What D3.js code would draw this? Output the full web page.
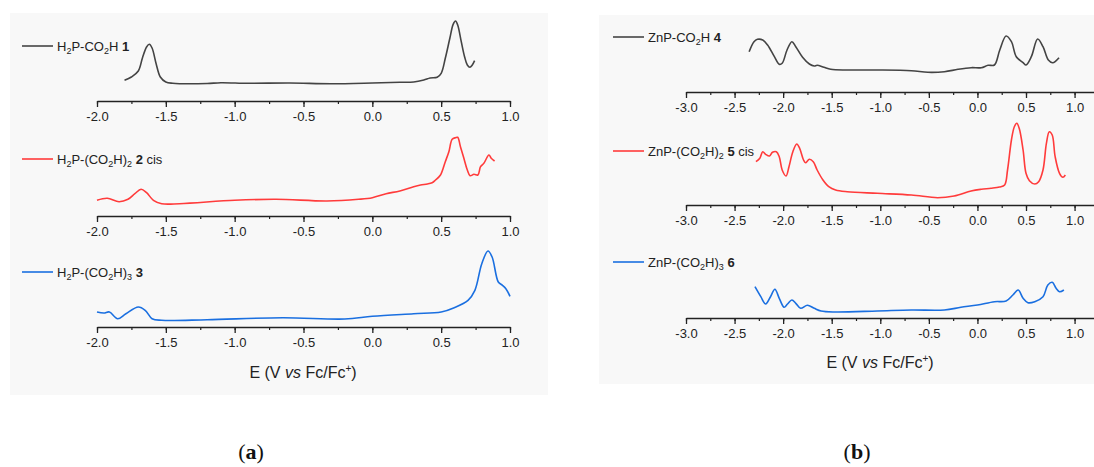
<!DOCTYPE html>
<html>
<head>
<meta charset="utf-8">
<script src="https://cdn.jsdelivr.net/npm/d3@7"></script>
<style>
  body { margin: 0; background: #fff; }
  svg { display: block; font-family: "Liberation Sans", Arial, sans-serif; }
</style>
</head>
<body>
<svg id="chart" width="1094" height="467"></svg>
<script>
// values: [E (V vs Fc/Fc+), relative signal]
const h2p1 = [[-1.80,20.7],[-1.75,24],[-1.70,30],[-1.67,43],[-1.64,54],[-1.62,56.7],[-1.60,53],[-1.57,37],
  [-1.54,24],[-1.50,19],[-1.45,17.7],[-1.40,17.3],[-1.2,17.5],[-1.1,18.3],[-0.9,17.7],[-0.6,18],[-0.3,17.3],
  [0.0,18],[0.20,18.7],[0.30,19],[0.374,21],[0.42,23],[0.471,23.7],[0.50,27.7],[0.53,42.7],[0.563,62.7],
  [0.587,76.7],[0.604,80],[0.62,76],[0.646,59.3],[0.67,44.3],[0.69,36],[0.709,33.7],[0.726,36],[0.743,40.3]];
const h2p2 = [[-2.0,15.7],[-1.925,17.7],[-1.84,14.3],[-1.775,16.7],[-1.725,22.3],[-1.68,26.7],[-1.64,23.3],
  [-1.59,15.7],[-1.53,12.3],[-1.40,12.3],[-1.0,15.7],[-0.70,16.7],[-0.33,15],[-0.10,16.7],[0.0,18.3],
  [0.10,22.3],[0.20,25],[0.30,29.3],[0.35,31],[0.40,32],[0.434,33.3],[0.459,36],[0.495,41],[0.53,54.3],
  [0.556,64.3],[0.58,76.7],[0.604,78.3],[0.62,78.7],[0.64,69.3],[0.665,57.7],[0.69,46],[0.71,40.3],
  [0.738,41.7],[0.767,41],[0.786,49.3],[0.81,52.7],[0.847,61],[0.864,57.7],[0.888,55]];
const h2p3 = [[-2.0,15],[-1.95,14],[-1.91,15],[-1.85,8.3],[-1.79,13.3],[-1.70,20],[-1.65,16.7],[-1.60,8.3],
  [-1.53,6.7],[-1.20,7.3],[-0.65,9.3],[-0.20,8],[0.0,10.7],[0.30,13.3],[0.50,15],[0.595,19.3],[0.695,26.7],
  [0.745,36.7],[0.795,63.3],[0.84,76],[0.87,70],[0.915,45],[0.945,41.7],[0.97,38.3],[1.0,30.7]];

const znp4 = [[-2.35,40.3],[-2.30,50.3],[-2.265,52.7],[-2.21,52],[-2.16,47],[-2.09,35.3],[-2.04,27.7],
  [-2.01,28.7],[-1.96,42],[-1.91,50.3],[-1.87,45.3],[-1.80,34.7],[-1.73,28],[-1.68,26],[-1.65,26.7],
  [-1.58,24.7],[-1.51,22.7],[-1.34,22],[-1.03,22],[-0.68,21.3],[-0.51,19.7],[-0.34,20.3],[-0.20,22.7],
  [-0.065,24.3],[0.04,24.3],[0.11,26.7],[0.175,27],[0.23,42],[0.295,56],[0.35,50.3],[0.40,35.3],
  [0.47,29.3],[0.50,27],[0.555,35.3],[0.62,53],[0.675,45.3],[0.73,32],[0.775,29.3],[0.84,34.3]];
const znp5 = [[-2.28,43.3],[-2.24,46.7],[-2.21,53.3],[-2.18,50.7],[-2.14,49],[-2.11,52.7],[-2.07,53.3],
  [-2.04,48.3],[-2.01,35],[-1.97,29],[-1.94,38.3],[-1.90,53.3],[-1.86,61],[-1.83,56.7],[-1.79,45],
  [-1.77,42.3],[-1.73,45.7],[-1.69,43.3],[-1.65,35],[-1.59,25],[-1.53,18.3],[-1.46,15],[-1.34,13.3],
  [-1.03,11.7],[-0.68,10],[-0.41,7.3],[-0.24,9],[-0.065,14],[0.04,15.7],[0.14,16.7],[0.227,18],
  [0.28,20],[0.31,35],[0.35,65],[0.38,78.3],[0.405,81.7],[0.43,76.7],[0.47,55],[0.50,31.7],[0.535,24.3],
  [0.59,21],[0.63,23.3],[0.675,35],[0.71,61.7],[0.74,73.3],[0.77,70],[0.80,48.3],[0.845,31.7],
  [0.88,27.7],[0.905,30]];
const znp6 = [[-2.29,31.3],[-2.23,21.3],[-2.18,14],[-2.13,21.3],[-2.085,28.7],[-2.04,19.7],[-1.99,10.7],
  [-1.955,14],[-1.91,18],[-1.87,14.7],[-1.82,9.7],[-1.75,12.7],[-1.68,9.7],[-1.61,7],[-1.47,6],[-1.03,7],
  [-0.68,8],[-0.34,8],[-0.17,10.7],[0.0,13],[0.175,16.3],[0.295,17],[0.365,23],[0.42,28],[0.47,19.7],
  [0.52,15.3],[0.59,16.3],[0.675,21.3],[0.725,33],[0.77,35.7],[0.81,29.7],[0.845,26.3],[0.89,28]];

const ticksA = [-2.0, -1.5, -1.0, -0.5, 0.0, 0.5, 1.0];
const ticksB = [-3.0, -2.5, -2.0, -1.5, -1.0, -0.5, 0.0, 0.5, 1.0];
const colors = ["#444444", "#ff3b3b", "#1a6fe0"];

// legend labels: [text, style] pieces
const labelsA = [
  [["H",""],["2","sub"],["P-CO",""],["2","sub"],["H ",""],["1","b"]],
  [["H",""],["2","sub"],["P-(CO",""],["2","sub"],["H)",""],["2","sub"],[" ",""],["2","b"],[" cis",""]],
  [["H",""],["2","sub"],["P-(CO",""],["2","sub"],["H)",""],["3","sub"],[" ",""],["3","b"]]
];
const labelsB = [
  [["ZnP-CO",""],["2","sub"],["H ",""],["4","b"]],
  [["ZnP-(CO",""],["2","sub"],["H)",""],["2","sub"],[" ",""],["5","b"],[" cis",""]],
  [["ZnP-(CO",""],["2","sub"],["H)",""],["3","sub"],[" ",""],["6","b"]]
];

const panels = [
  {series: [h2p1, h2p2, h2p3], labels: labelsA, ticks: ticksA, domain: [-2, 1], range: [97, 510],
   bg: [10, 13, 538, 382], axisY: [101, 216, 327], legY: [46, 159, 272], legX: 22,
   titleX: 303, titleY: 378, cap: "a", capX: 251},
  {series: [znp4, znp5, znp6], labels: labelsB, ticks: ticksB, domain: [-3, 1.2], range: [686, 1094],
   bg: [599, 15, 495, 369], axisY: [92, 205, 318], legY: [37, 151, 262], legX: 613,
   titleX: 880, titleY: 368, cap: "b", capX: 857}
];

const svg = d3.select("#chart");

panels.forEach(p => {
  svg.append("rect")
     .attr("x", p.bg[0]).attr("y", p.bg[1])
     .attr("width", p.bg[2]).attr("height", p.bg[3])
     .attr("fill", "#f8f8f8");

  const x = d3.scaleLinear().domain(p.domain).range(p.range);
  const minor = d3.range(p.ticks[0], p.ticks[p.ticks.length - 1] + 0.001, 0.25);

  p.series.forEach((data, i) => {
    const ay = p.axisY[i];
    const y = d3.scaleLinear().domain([0, 100]).range([ay, ay - 100]);

    // minor ticks
    svg.append("g")
       .attr("transform", `translate(0,${ay})`)
       .call(d3.axisBottom(x).tickValues(minor).tickSize(3).tickSizeOuter(0).tickFormat(""))
       .call(g => g.selectAll("line").attr("stroke", "#222").attr("stroke-width", 1.2))
       .call(g => g.select(".domain").attr("stroke", "#222").attr("stroke-width", 1.3));

    // major ticks + labels
    svg.append("g")
       .attr("transform", `translate(0,${ay})`)
       .call(d3.axisBottom(x).tickValues(p.ticks).tickSize(6).tickSizeOuter(0).tickPadding(5)
               .tickFormat(d => d.toFixed(1)))
       .call(g => g.select(".domain").remove())
       .call(g => g.selectAll("line").attr("stroke", "#222").attr("stroke-width", 1.3))
       .call(g => g.selectAll("text").attr("fill", "#222")
                   .style("font-family", "'Liberation Sans', Arial, sans-serif")
                   .style("font-size", "13px"));

    const line = d3.line()
      .x(d => x(d[0]))
      .y(d => y(d[1]))
      .curve(d3.curveCatmullRom.alpha(0.5));

    svg.append("path")
       .datum(data)
       .attr("d", line)
       .attr("fill", "none")
       .attr("stroke", colors[i])
       .attr("stroke-width", 1.6);

    // legend
    const ly = p.legY[i];
    svg.append("line")
       .attr("x1", p.legX).attr("x2", p.legX + 31)
       .attr("y1", ly).attr("y2", ly)
       .attr("stroke", colors[i]).attr("stroke-width", 1.6);
    const t = svg.append("text")
       .attr("x", p.legX + 35).attr("y", ly + 4.5)
       .attr("font-size", 13).attr("fill", "#222");
    p.labels[i].forEach(([s, st]) => {
      const ts = t.append("tspan").text(s);
      if (st === "sub") ts.attr("font-size", 9).attr("dy", 3);
      if (st === "b") ts.attr("font-weight", "bold");
      // return to baseline after subscript
      if (st !== "sub" && ts.node().previousSibling && ts.node().previousSibling.getAttribute("dy") === "3")
        ts.attr("dy", -3);
    });
  });

  // x axis title
  const title = svg.append("text")
     .attr("x", p.titleX).attr("y", p.titleY)
     .attr("text-anchor", "middle").attr("font-size", 16).attr("fill", "#222");
  title.append("tspan").text("E (V ");
  title.append("tspan").attr("font-style", "italic").text("vs");
  title.append("tspan").text(" Fc/Fc");
  title.append("tspan").attr("font-size", 10).attr("dy", -6).text("+");
  title.append("tspan").attr("dy", 6).text(")");

  // panel caption
  const cap = svg.append("text")
     .attr("x", p.capX).attr("y", 459)
     .attr("text-anchor", "middle")
     .style("font-family", "'Liberation Serif', 'DejaVu Serif', serif")
     .attr("font-size", 22).attr("fill", "#111");
  cap.append("tspan").text("(");
  cap.append("tspan").attr("font-weight", "bold").text(p.cap);
  cap.append("tspan").text(")");
});
</script>
</body>
</html>
